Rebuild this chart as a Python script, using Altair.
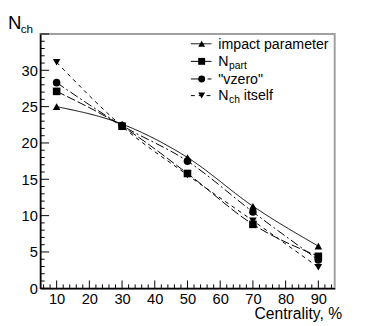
import altair as alt
import pandas as pd

# ---- data ----
centrality = [10, 30, 50, 70, 90]
impact_parameter = [25.0, 22.6, 18.0, 11.3, 5.8]
n_part = [27.1, 22.3, 15.8, 8.8, 4.4]
vzero = [28.3, 22.4, 17.5, 10.5, 3.9]
nch_itself = [31.1, 22.3, 15.6, 9.3, 2.9]

series_names = ["impact parameter", "N_part", "\"vzero\"", "N_ch itself"]
series_values = [impact_parameter, n_part, vzero, nch_itself]
series_shapes = ["triangle-up", "square", "circle", "triangle-down"]
series_dashes = [[1, 0], [9, 3], [9, 3, 2, 3], [4, 4]]

x_labels = [10, 20, 30, 40, 50, 60, 70, 80, 90]
y_labels = [0, 5, 10, 15, 20, 25, 30]
x_minor = [6, 8, 12, 14, 16, 18, 22, 24, 26, 28, 32, 34, 36, 38, 42, 44, 46, 48,
           52, 54, 56, 58, 62, 64, 66, 68, 72, 74, 76, 78, 82, 84, 86, 88, 92, 94]
y_minor = [1, 2, 3, 4, 6, 7, 8, 9, 11, 12, 13, 14, 16, 17, 18, 19, 21, 22, 23, 24,
           26, 27, 28, 29, 31, 32, 33, 34]
y_major_ticks = [0, 5, 10, 15, 20, 25, 30, 35]

W, H = 301, 260
FONT = "Liberation Sans"

rows = []
for name, vals in zip(series_names, series_values):
    for c, v in zip(centrality, vals):
        rows.append({"series": name, "centrality": c, "nch": v})
df = pd.DataFrame(rows)

xscale = alt.Scale(domain=[5, 95], nice=False, zero=False)
yscale = alt.Scale(domain=[0, 35], nice=False)

x_axis = alt.Axis(values=x_labels, ticks=False, grid=False, title="Centrality, %",
                  titleAnchor="end", titleAlign="right", titleX=W + 7, titleY=31,
                  titleBaseline="alphabetic", labelPadding=4, labelOverlap=False,
                  labelFlush=False)
y_axis = alt.Axis(values=y_labels, ticks=False, grid=False, title="",
                  labelPadding=3, labelOverlap=False, labelFlush=False)


def X(field):
    return alt.X(field, scale=xscale, axis=x_axis, title="Centrality, %")


def Y(field):
    return alt.Y(field, scale=yscale, axis=y_axis, title="")


dash_enc = alt.StrokeDash("series:N", scale=alt.Scale(domain=series_names, range=series_dashes),
                          legend=None)
shape_enc = alt.Shape("series:N", scale=alt.Scale(domain=series_names, range=series_shapes),
                      legend=None)

lines = alt.Chart(df).mark_line(color="black", strokeWidth=1, interpolate="monotone").encode(
    x=X("centrality:Q"), y=Y("nch:Q"), strokeDash=dash_enc, detail="series:N")
points = alt.Chart(df).mark_point(filled=True, color="black", size=60, opacity=1).encode(
    x=X("centrality:Q"), y=Y("nch:Q"), shape=shape_enc)

# ticks pointing inward (ROOT style)
xt_major = alt.Chart(pd.DataFrame({"t": x_labels})).mark_rule(color="black").encode(
    x=X("t:Q"), y=alt.value(H), y2=alt.value(H - 8))
xt_minor = alt.Chart(pd.DataFrame({"t": x_minor})).mark_rule(color="black").encode(
    x=X("t:Q"), y=alt.value(H), y2=alt.value(H - 4))
yt_major = alt.Chart(pd.DataFrame({"t": y_major_ticks})).mark_rule(color="black").encode(
    y=Y("t:Q"), x=alt.value(0), x2=alt.value(9))
yt_minor = alt.Chart(pd.DataFrame({"t": y_minor})).mark_rule(color="black").encode(
    y=Y("t:Q"), x=alt.value(0), x2=alt.value(4.5))

one = pd.DataFrame({"k": [0]})
layers = [lines, points, xt_major, xt_minor, yt_major, yt_minor]

# y title N_ch
layers.append(alt.Chart(one).mark_text(text="N", font=FONT, fontSize=19, align="left",
                                       baseline="alphabetic", color="black").encode(
    x=alt.value(-33), y=alt.value(-5)))
layers.append(alt.Chart(one).mark_text(text="ch", font=FONT, fontSize=12, align="left",
                                       baseline="alphabetic", color="black").encode(
    x=alt.value(-20), y=alt.value(-1)))

# legend
leg_y = [10, 28, 46, 63]
leg_main = ["impact parameter", "N", "\"vzero\"", "N"]
leg_sub = [None, "part", None, "ch"]
leg_tail = [None, None, None, "itself"]
for i in range(4):
    yy = leg_y[i]
    layers.append(alt.Chart(one).mark_rule(color="black", strokeWidth=1,
                                           strokeDash=series_dashes[i]).encode(
        x=alt.value(154), x2=alt.value(175), y=alt.value(yy)))
    layers.append(alt.Chart(one).mark_point(filled=True, color="black", size=50, opacity=1,
                                            shape=series_shapes[i]).encode(
        x=alt.value(165), y=alt.value(yy)))
    layers.append(alt.Chart(one).mark_text(text=leg_main[i], font=FONT, fontSize=14.5,
                                           align="left", baseline="alphabetic",
                                           color="black").encode(
        x=alt.value(182), y=alt.value(yy + 5)))
    if leg_sub[i]:
        layers.append(alt.Chart(one).mark_text(text=leg_sub[i], font=FONT, fontSize=10.5,
                                               align="left", baseline="alphabetic",
                                               color="black").encode(
            x=alt.value(193), y=alt.value(yy + 8)))
    if leg_tail[i]:
        layers.append(alt.Chart(one).mark_text(text=leg_tail[i], font=FONT, fontSize=14.5,
                                               align="left", baseline="alphabetic",
                                               color="black").encode(
            x=alt.value(208), y=alt.value(yy + 5)))

chart = alt.layer(*layers).properties(
    width=W, height=H,
    autosize=alt.AutoSizeParams(type="none"),
    padding={"left": 33, "top": 23, "right": 32, "bottom": 35},
).configure_view(
    stroke="#a0a0a0", strokeWidth=2
).configure_axis(
    domainColor="black", domainWidth=1.5, labelFont=FONT, labelFontSize=15,
    labelColor="black", titleFont=FONT, titleFontSize=16, titleFontWeight="normal",
    titleColor="black", labelOverlap=False
)

chart.save("out.html", embed_options={"renderer": "svg", "actions": False})
